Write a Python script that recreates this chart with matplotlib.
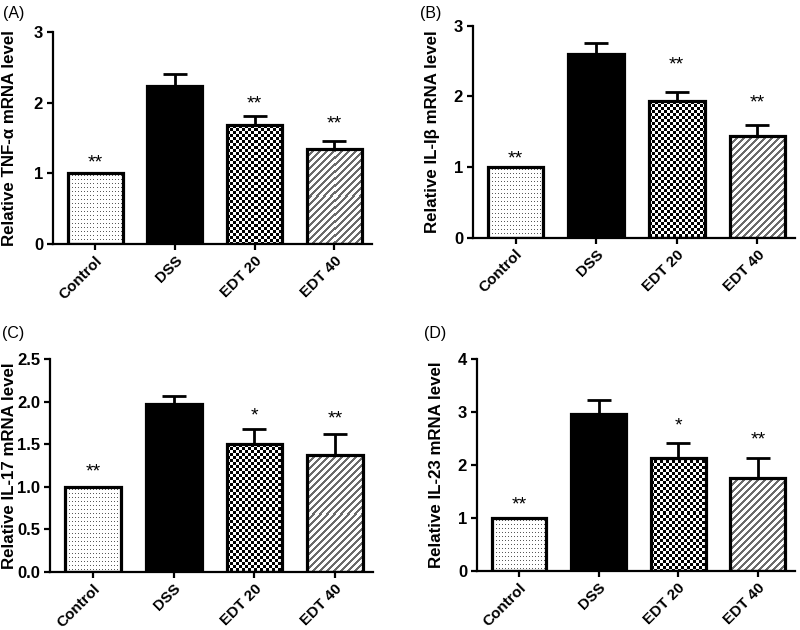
import numpy as np
import matplotlib
matplotlib.use("Agg")
import matplotlib.pyplot as plt

plt.rcParams['font.family'] = ['Liberation Sans', 'DejaVu Sans']

categories = ["Control", "DSS", "EDT 20", "EDT 40"]

tnf_vals = [1.00, 2.23, 1.68, 1.35]
tnf_err = [0.0, 0.18, 0.13, 0.10]
tnf_stars = ["**", "", "**", "**"]
tnf_star_y = [1.14, None, 1.98, 1.70]

il1b_vals = [1.00, 2.60, 1.93, 1.44]
il1b_err = [0.0, 0.15, 0.13, 0.16]
il1b_stars = ["**", "", "**", "**"]
il1b_star_y = [1.11, None, 2.44, 1.90]

il17_vals = [1.00, 1.97, 1.50, 1.37]
il17_err = [0.0, 0.10, 0.18, 0.25]
il17_stars = ["**", "", "*", "**"]
il17_star_y = [1.18, None, 1.83, 1.80]

il23_vals = [1.00, 2.97, 2.14, 1.75]
il23_err = [0.0, 0.26, 0.27, 0.39]
il23_stars = ["**", "", "*", "**"]
il23_star_y = [1.24, None, 2.74, 2.48]

panels = [
    dict(label="(A)", ylabel="Relative TNF-α mRNA level", vals=tnf_vals, err=tnf_err,
         stars=tnf_stars, star_y=tnf_star_y, ymax=3, yticks=[0, 1, 2, 3], fmt="{:.0f}",
         rect=[0.066, 0.613, 0.399, 0.336], lab_xy=(0.004, 0.979), ylab_x=10),
    dict(label="(B)", ylabel="Relative IL-Iβ mRNA level", vals=il1b_vals, err=il1b_err,
         stars=il1b_stars, star_y=il1b_star_y, ymax=3, yticks=[0, 1, 2, 3], fmt="{:.0f}",
         rect=[0.591, 0.623, 0.403, 0.336], lab_xy=(0.525, 0.979), ylab_x=432),
    dict(label="(C)", ylabel="Relative IL-17 mRNA level", vals=il17_vals, err=il17_err,
         stars=il17_stars, star_y=il17_star_y, ymax=2.5, yticks=[0, 0.5, 1.0, 1.5, 2.0, 2.5], fmt="{:.1f}",
         rect=[0.0625, 0.0925, 0.404, 0.337], lab_xy=(0.003, 0.47), ylab_x=10),
    dict(label="(D)", ylabel="Relative IL-23 mRNA level", vals=il23_vals, err=il23_err,
         stars=il23_stars, star_y=il23_star_y, ymax=4, yticks=[0, 1, 2, 3, 4], fmt="{:.0f}",
         rect=[0.596, 0.094, 0.398, 0.336], lab_xy=(0.53, 0.47), ylab_x=436),
]

DPI = 100
W, H = 800, 630
fig = plt.figure(figsize=(W / DPI, H / DPI), dpi=DPI)


def pattern(kind, h, w):
    yy, xx = np.mgrid[0:h, 0:w]
    img = np.ones((h, w, 3))
    if kind == "dots":
        m = (xx % 3 == 1) & (yy % 4 == 2)
        img[m] = 0.35
    elif kind == "checker":
        m = ((xx // 3) + (yy // 3)) % 2 == 0
        img[m] = 0.0
    elif kind == "stripes":
        m = ((xx + yy) % 7) < 3
        img[m] = 0.42
    return img


kinds = ["dots", "solid", "checker", "stripes"]

for p in panels:
    ax = fig.add_axes(p["rect"])
    x = np.arange(len(categories))
    ax.set_xlim(-0.53, 3.47)
    ax.set_ylim(0, p["ymax"])
    faces = ["none" if k != "solid" else "black" for k in kinds]
    bars = ax.bar(x, p["vals"], width=0.69, color=faces, edgecolor="black",
                  linewidth=2.3, zorder=3)
    fig.canvas.draw()
    for b, k in zip(bars, kinds):
        if k == "solid":
            continue
        x0, y0 = b.get_x(), 0
        x1, y1 = b.get_x() + b.get_width(), b.get_height()
        (px0, py0), (px1, py1) = ax.transData.transform([(x0, y0), (x1, y1)])
        w = max(int(round(px1 - px0)), 1)
        h = max(int(round(py1 - py0)), 1)
        im = ax.imshow(pattern(k, h, w), extent=(x0, x1, y0, y1), aspect="auto",
                       interpolation="nearest", zorder=2, origin="upper")
        im.set_clip_path(b)
    ax.set_xlim(-0.53, 3.47)
    ax.set_ylim(0, p["ymax"])
    ax.errorbar(x[1:], np.array(p["vals"])[1:], yerr=[np.zeros(3), np.array(p["err"])[1:]],
                fmt="none", ecolor="black", elinewidth=2.0, capsize=8.5, capthick=2.0, zorder=2.5)
    for xi, s, sy in zip(x, p["stars"], p["star_y"]):
        if s:
            ax.text(xi, sy, s, ha="center", va="center", fontsize=14)
    ax.spines["top"].set_visible(False)
    ax.spines["right"].set_visible(False)
    ax.spines["left"].set_linewidth(1.6)
    ax.spines["bottom"].set_linewidth(1.6)
    ax.set_yticks(p["yticks"])
    ax.set_yticklabels([p["fmt"].format(v) for v in p["yticks"]], fontsize=12, fontweight="bold")
    ax.set_xticks(x)
    ax.set_xticklabels(categories, rotation=45, ha="right", rotation_mode="anchor",
                       fontsize=11, fontweight="bold")
    ax.tick_params(axis="both", direction="out", length=4, width=1.6, pad=3)
    ax.set_ylabel(p["ylabel"], fontsize=12.2, fontweight="bold")
    ax.yaxis.label.set_va("center")
    ycen = p["rect"][1] + p["rect"][3] / 2
    ax.yaxis.set_label_coords(p["ylab_x"] / W, ycen, transform=fig.transFigure)
    fig.text(p["lab_xy"][0], p["lab_xy"][1], p["label"], fontsize=11.5, ha="left", va="center")

fig.savefig("out.png", dpi=DPI)
